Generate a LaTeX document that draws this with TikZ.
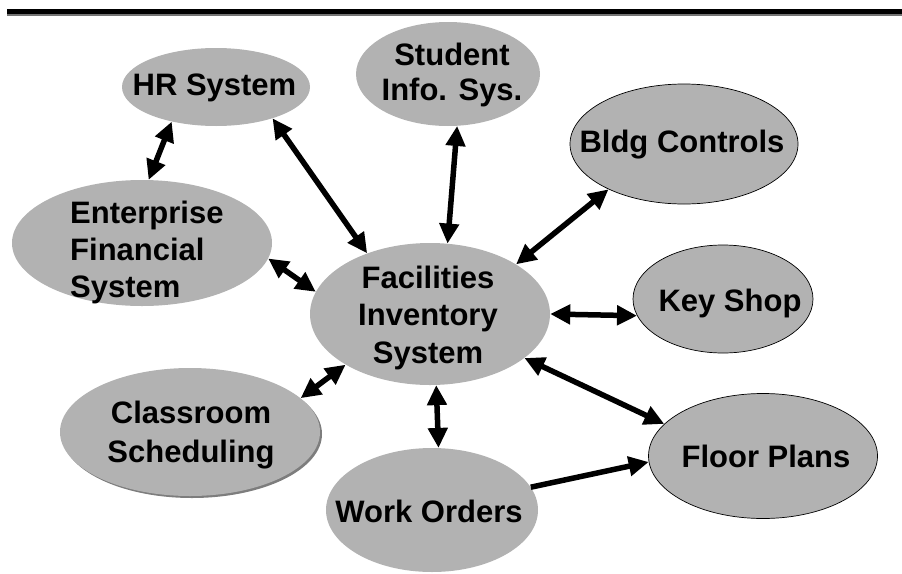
\documentclass[tikz,border=0pt]{standalone}
\usepackage{fontspec}
\setmainfont{Liberation Sans}
\usetikzlibrary{arrows.meta,shadows,shapes.geometric}
\definecolor{ellgray}{RGB}{178,178,178}
\definecolor{shadgray}{RGB}{125,125,125}
\begin{document}
\begin{tikzpicture}[x=1pt,y=-1pt,
  bub/.style={ellipse, fill=ellgray, draw=none, inner sep=0pt},
  bubline/.style={bub, draw=black, line width=0.7pt},
  lbl/.style={font=\fontsize{31}{38}\selectfont\bfseries, inner sep=0pt, anchor=base, align=center},
  link/.style={line width=5.5pt, {Triangle[length=20pt,width=19pt]}-{Triangle[length=20pt,width=19pt]}},
  onelink/.style={line width=5.5pt, -{Triangle[length=20pt,width=19pt]}}]
\useasboundingbox (0,0) rectangle (902,573);
% top rule
\fill[black] (7,9) rectangle (902,14);
\fill[black!55] (7,14) rectangle (902,15.5);
% ellipses
\node[bub, minimum width=188, minimum height=78] (hr) at (216,87) {};
\node[bub, minimum width=184, minimum height=104] (sis) at (448,74) {};
\node[bubline, minimum width=228, minimum height=120] (bldg) at (684,144) {};
\node[bubline, minimum width=180, minimum height=108] (key) at (723,299) {};
\node[bubline, minimum width=229, minimum height=125] (floor) at (763,456) {};
\node[bub, minimum width=212, minimum height=124] (work) at (432,510) {};
\node[bub, minimum width=260, minimum height=128, drop shadow={shadow xshift=2pt, shadow yshift=-2pt, fill=shadgray, opacity=1}] (class) at (190,432) {};
\node[bub, minimum width=260, minimum height=126] (ent) at (142,243) {};
\node[bub, minimum width=240, minimum height=142] (fis) at (430,314) {};
% labels (base anchor = last line baseline)
\node[lbl] (thr) at (214.5,95) {HR System};
\node[lbl, font=\fontsize{31}{35}\selectfont\bfseries] (tsis) at (452,100) {Student\\Info. Sys.};
\node[lbl] (tbldg) at (682,152) {Bldg Controls};
\node[lbl] (tkey) at (730,311) {Key Shop};
\node[lbl] (tfloor) at (766,467) {Floor Plans};
\node[lbl] (twork) at (429,522) {Work Orders};
\node[lbl, font=\fontsize{31}{39}\selectfont\bfseries] (tclass) at (191,462) {Classroom\\Scheduling};
\node[lbl, font=\fontsize{31}{37}\selectfont\bfseries, anchor=base west, align=left] (tent) at (70,297) {Enterprise\\Financial\\System};
\node[lbl, font=\fontsize{31}{37.5}\selectfont\bfseries] (tfis) at (428,363) {Facilities\\Inventory\\System};
% connectors
\draw[link] (hr.218) -- (ent.84);
\draw[link] (hr.-29) -- (fis.136);
\draw[link] (sis.280) -- (fis.76);
\draw[link] (bldg.211) -- (fis.30);
\draw[link] (key.191) -- (fis.0);
\draw[link] (fis.-25) -- (floor.162);
\draw[link] (ent.-7) -- (fis.169);
\draw[link] (class.17) -- (fis.211);
\draw[link] (fis.275) -- (work.84);
\draw[onelink] (work.13) -- (floor.183);
\end{tikzpicture}
\end{document}
